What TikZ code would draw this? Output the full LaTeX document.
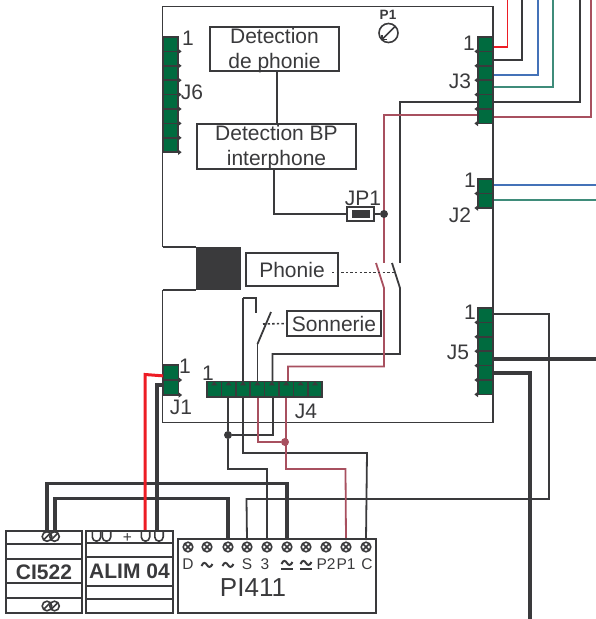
\documentclass[tikz,border=0pt]{standalone}
\usepackage{fontspec}
\setmainfont{Liberation Sans}
\definecolor{ink}{HTML}{3A3A3C}
\definecolor{pcb}{HTML}{006B3F}
\definecolor{wred}{HTML}{ED1C24}
\definecolor{wblue}{HTML}{4472B8}
\definecolor{wteal}{HTML}{3F8C7A}
\definecolor{wbrown}{HTML}{A8505F}
\tikzset{
  wire/.style={draw=ink,line width=1.8pt,line join=miter},
  thick wire/.style={draw=ink,line width=3.1pt,line join=miter},
  redw/.style={draw=wred,line width=1.8pt},
  fatred/.style={draw=wred,line width=3pt},
  bluew/.style={draw=wblue,line width=1.8pt},
  tealw/.style={draw=wteal,line width=1.8pt},
  brownw/.style={draw=wbrown,line width=1.8pt},
  board/.style={draw=ink,line width=1.7pt},
  box/.style={draw=ink,line width=1.7pt,fill=white,inner sep=0pt,align=center,font=\fontsize{21}{25.5}\selectfont,text=ink},
  lbl/.style={inner sep=0pt,text=ink,font=\fontsize{21}{25}\selectfont},
  term/.style={inner sep=0pt,text=ink,font=\fontsize{15.5}{17}\selectfont},
  bold lbl/.style={inner sep=0pt,text=ink,font=\fontsize{21}{25}\selectfont\bfseries},
  dot/.style={circle,fill=ink,inner sep=0pt,minimum size=8pt},
  browndot/.style={circle,fill=wbrown,inner sep=0pt,minimum size=8pt},
  link/.style={draw=ink,line width=1.6pt,dash pattern=on 2.4pt off 2.2pt},
}
% vertical connector: #1 left, #2 top, #3 width, #4 cell height, #5 cells, #6 tick side x, #7 tick dir
\newcommand{\vconn}[7]{%
  \fill[pcb] (#1,#2) rectangle ({#1+#3},{#2+#4*#5});
  \draw[ink,line width=1.8pt] (#1,#2) rectangle ({#1+#3},{#2+#4*#5});
  \foreach \k in {1,...,#5}{%
    \ifnum\k<#5\relax
      \draw[ink,line width=1.6pt] (#1,{#2+#4*\k}) -- ({#1+#3},{#2+#4*\k});
    \fi
    \fill[ink] ({#6},{#2+#4*\k-2.8}) -- ({#6+#7*3.6},{#2+#4*\k}) -- ({#6},{#2+#4*\k+2.8}) -- cycle;
  }%
}
\newcommand{\hconn}[5]{%
  \fill[pcb] (#1,#2) rectangle ({#1+#4*#5},{#2+#3});
  \draw[ink,line width=1.8pt] (#1,#2) rectangle ({#1+#4*#5},{#2+#3});
  \foreach \k in {1,...,#5}{%
    \ifnum\k<#5\relax
      \draw[ink,line width=1.6pt] ({#1+#4*\k},#2) -- ({#1+#4*\k},{#2+#3});
    \fi
    \fill[ink] ({#1+#4*\k-#4/2-3},{#2+3.8}) -- ({#1+#4*\k-#4/2},#2) -- ({#1+#4*\k-#4/2+3},{#2+3.8}) -- cycle;
  }%
}
\newcommand{\screw}[2]{%
  \draw[ink,line width=1.6pt,fill=white] (#1,#2) circle (4.8pt);
  \draw[ink,line width=1.5pt] ({#1-3.3},{#2-3.3}) -- ({#1+3.3},{#2+3.3}) ({#1-3.3},{#2+3.3}) -- ({#1+3.3},{#2-3.3});
}
\newcommand{\slotc}[2]{%
  \draw[ink,line width=1.6pt] (#1,#2) circle (4.8pt);
  \draw[ink,line width=1.5pt] ({#1-3.2},{#2+3.2}) -- ({#1+3.2},{#2-3.2});
}
\newcommand{\ucup}[2]{%
  \draw[ink,line width=1.6pt] ({#1-4.2},#2) -- ({#1-4.2},{#2+6}) arc[start angle=180,end angle=360,radius=4.2pt] -- ({#1+4.2},#2);
}
\newcommand{\twave}[2]{%
  \draw[ink,line width=2pt] ({#1-5.5},{#2+1}) .. controls ({#1-3.5},{#2-3.5}) and ({#1-1.5},{#2-2.5}) .. (#1,#2) .. controls ({#1+1.5},{#2+2.5}) and ({#1+3.5},{#2+3}) .. ({#1+5.5},{#2-1});
}
\begin{document}
\begin{tikzpicture}[x=1pt,y=-1pt]
\useasboundingbox (0,0) rectangle (596,619);
% board outline
\draw[board] (162.5,247) -- (162.5,6.5) -- (493,6.5) -- (493,422.5) -- (162.5,422.5) -- (162.5,290);
\draw[board] (162.5,247) -- (196,247);
\draw[board] (162.5,290) -- (196,290);
\node[fill=ink,inner sep=0pt,minimum width=45pt,minimum height=43pt] (blk) at (218.5,268.5) {};

% named pins and free ends
\coordinate (j3a) at (493,47);   \coordinate (ra) at (507.5,0);
\coordinate (j3b) at (493,60);   \coordinate (rb) at (522,0);
\coordinate (j3c) at (493,75);   \coordinate (rc) at (538,0);
\coordinate (j3d) at (493,87);   \coordinate (rd) at (553,0);
\coordinate (j3e) at (493,102);  \coordinate (re) at (580,0);
\coordinate (j3f) at (493,117);  \coordinate (rf) at (591,0);
\coordinate (j2a) at (493,185);  \coordinate (oa) at (596,185);
\coordinate (j2b) at (493,200);  \coordinate (ob) at (596,200);
\coordinate (j5a) at (493,314);
\coordinate (j5d) at (493,359);  \coordinate (oc) at (596,359);
\coordinate (j5e) at (493,373);  \coordinate (od) at (530,619);
\coordinate (j3in) at (479,102); \coordinate (j3inb) at (479,115);
\coordinate (swa) at (400,263);  \coordinate (swb) at (400,288);
\coordinate (swaf) at (392,263);
\coordinate (swc) at (384,263);  \coordinate (swd) at (384,288);
\coordinate (swcf) at (376,263);
\coordinate (j4e) at (257.5,381); \coordinate (j4f) at (272.5,381);
\coordinate (j4g) at (288,381);
\coordinate (son) at (257.5,344); \coordinate (sonf) at (271,312);
\coordinate (j4b) at (228,397);  \coordinate (j4f2) at (273,397);
\coordinate (j4d2) at (258,397); \coordinate (j4g2) at (286,397);
\coordinate (hook) at (256,313);

% PI411 terminals
\foreach \n/\x in {D/188,a/207,b/228,S/247,T/267,c/287,d/306,P/326,Q/346,C/366}{\coordinate (pi\n) at (\x,540);}
\coordinate (cia) at (47,530); \coordinate (cib) at (55,530);
\coordinate (alr) at (145,531); \coordinate (alk) at (157,531);

% external wires
\draw[redw] (j3a) -| (ra);
\draw[wire] (j3b) -| (rb);
\draw[bluew] (j3c) -| (rc);
\draw[tealw] (j3d) -| (rd);
\draw[wire] (j3e) -| (re);
\draw[brownw] (j3f) -| (rf);
\draw[bluew] (j2a) -- (oa);
\draw[tealw] (j2b) -- (ob);
\draw[thick wire] (j5d) -- (oc);
\draw[thick wire] (j5e) -| (od);
\draw[wire] (j5a) -- (549,314) -- (549,499) -- (246.5,499) -- (piS);

% internal wires
\draw[wire] (j3in) -- (400,102) -- (swa);
\draw[wire] (swaf) -- (swb) -- (400,354) -- (272.5,354) -- (j4f);
\draw[brownw] (j3inb) -- (384,115) -- (swc);
\draw[brownw] (swcf) -- (swd) -- (384,366.5) -- (288,366.5) -- (j4g);
\draw[wire] (son) -- (sonf);
\draw[wire] (son) -- (j4e);
\draw[wire] (243,298) -- (256,298) -- (hook);
\draw[wire] (243,298) -- (243,453) -- (367,453) -- (piC);

% lower wires
\node[dot] (n1) at (228,435) {};
\node[browndot] (n2) at (285,442) {};
\draw[wire] (j4b) -- (n1) -- (228,469) -- (267,469) -- (piT);
\draw[wire] (n1) -- (273,435) -- (j4f2);
\draw[brownw] (j4d2) -- (258,442) -- (n2);
\draw[brownw] (j4g2) -- (286,469) -- (345.5,469) -- (piQ);
\draw[thick wire] (cia) -- (47,483.5) -- (287,483.5) -- (pic);
\draw[thick wire] (cib) -- (55,498.5) -- (228,498.5) -- (pib);
\draw[fatred] (165,376) -- (145,374.5) -- (alr);
\draw[thick wire] (165,385) -- (157,385) -- (alk);

% connectors
\vconn{163}{37}{15}{14.4}{8}{178}{1}
\vconn{478}{37}{15}{14.4}{6}{478}{-1}
\vconn{478}{179}{15}{14.5}{2}{478}{-1}
\vconn{478}{308}{15}{14.4}{6}{478}{-1}
\vconn{163.5}{365}{15}{15}{2}{178.5}{1}
\hconn{207}{381.5}{15.5}{14.4}{8}

% boxes
\node[box,minimum width=129pt,minimum height=44pt] (dp) at (274.5,49) {};
\node[lbl,align=center,font=\fontsize{21}{25.5}\selectfont] (dpt) at (274.5,50.5) {Detection\\de phonie};
\node[box,minimum width=159pt,minimum height=45pt] (bp) at (276.5,146.5) {};
\node[lbl,align=center,font=\fontsize{21}{25.5}\selectfont] (bpt) at (276.5,147.5) {Detection BP\\interphone};
\draw[wire] (277,71) -- (277,124);
\draw[wire] (274,169) -- (274,214) -- (347,214);
\node[draw=ink,line width=1.6pt,fill=white,minimum width=27pt,minimum height=14pt,inner sep=0pt] (jp) at (360.5,214) {};
\node[fill=ink,minimum width=18pt,minimum height=8pt,inner sep=0pt] (jpi) at (360.5,214) {};
\node[dot] (jd) at (384,214) {};
\draw[wire] (jp) -- (jd);
\node[box,minimum width=92pt,minimum height=33pt] (ph) at (292,269.5) {Phonie};
\node[box,minimum width=94pt,minimum height=25pt] (so) at (334,323.5) {Sonnerie};
\coordinate (lk) at (394,272.5);
\draw[link] (332,272.5) -- (lk);
\draw[link] (263,324) -- (so.west);

% labels
\node[lbl] (l1) at (188,38.5) {1};
\node[lbl] (l2) at (192,92) {J6};
\node[lbl] (l3) at (469,43) {1};
\node[lbl] (l4) at (460,81) {J3};
\node[lbl] (l5) at (470,180) {1};
\node[lbl] (l6) at (460,215) {J2};
\node[lbl] (l7) at (470,312) {1};
\node[lbl] (l8) at (458,352) {J5};
\node[lbl] (l9) at (185,366) {1};
\node[lbl] (l10) at (181,407) {J1};
\node[lbl] (l11) at (208,373) {1};
\node[lbl] (l12) at (306,411) {J4};
\node[lbl] (l13) at (363,198) {JP1};
\node[inner sep=0pt,text=ink,font=\fontsize{13.5}{15}\selectfont\bfseries] (p1l) at (388,15) {P1};
\draw[ink,line width=1.6pt] (388.5,33) circle (9.5pt);
\draw[ink,line width=1.5pt] (382,39.5) -- (395,26.5);
\draw[ink,line width=1.5pt] (382,35) -- (382,39.5) -- (386.5,39.5);

% CI522
\node[draw=ink,line width=1.8pt,minimum width=76pt,minimum height=82pt,inner sep=0pt] (ci) at (44,572) {};
\foreach \y in {544,559,583,598}{\draw[ink,line width=1.6pt] (ci.west |- 0,\y) -- (ci.east |- 0,\y);}
\node[bold lbl] (cit) at (44,572) {CI522};
\slotc{47}{536.5}\slotc{54.5}{536.5}
\slotc{47}{606}\slotc{54.5}{606}

% ALIM 04
\node[draw=ink,line width=1.8pt,minimum width=87pt,minimum height=82pt,inner sep=0pt] (al) at (129.5,572) {};
\foreach \y in {543,557,586,599}{\draw[ink,line width=1.6pt] (al.west |- 0,\y) -- (al.east |- 0,\y);}
\node[bold lbl] (alt) at (129.5,571.5) {ALIM 04};
\ucup{96.5}{531}\ucup{106.5}{531}\ucup{145.5}{531}\ucup{159}{531}
\node[term] (plus) at (127.5,538) {+};

% PI411
\node[draw=ink,line width=1.8pt,minimum width=198pt,minimum height=74pt,inner sep=0pt] (pi) at (277,576) {};
\foreach \x in {188,207,228,247,267,287,306,326,346,366}{\screw{\x}{547}}
\node[term] (tD) at (188,564.5) {D};
\twave{207}{565}\twave{228}{565}
\node[term] (tS) at (247,564.5) {S};
\node[term] (t3) at (265,564.5) {3};
\twave{287}{563}\draw[ink,line width=1.7pt] (281,569) -- (293,569);
\twave{306}{563}\draw[ink,line width=1.7pt] (300,569) -- (312,569);
\node[term] (tP2) at (326,564.5) {P2};
\node[term] (tP1) at (346,564.5) {P1};
\node[term] (tC) at (367,564.5) {C};
\node[inner sep=0pt,text=ink,font=\fontsize{26}{28}\selectfont] (pit) at (253,587.5) {PI411};
\end{tikzpicture}
\end{document}
